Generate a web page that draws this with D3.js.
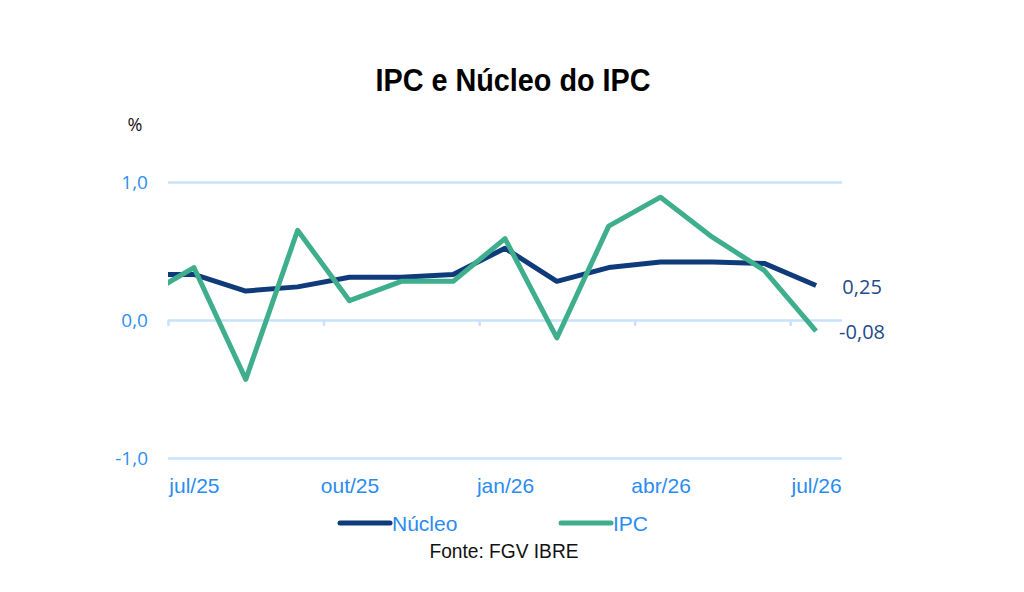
<!DOCTYPE html>
<html>
<head>
<meta charset="utf-8">
<script src="https://cdn.jsdelivr.net/npm/d3@7"></script>
<style>
  body { margin: 0; background: #fff; }
  #chart { width: 1024px; height: 592px; }
  .gridline line { stroke: #c9e1fa; stroke-width: 2.5; }
  .gridline path { display: none; }
  .line { fill: none; stroke-width: 5; stroke-linejoin: round; }
</style>
</head>
<body>
<div id="chart"></div>
<script>
// months, first one (jun/25) only enters the plot as a clipped segment
var months = ['jun/25','jul/25','ago/25','set/25','out/25','nov/25','dez/25',
              'jan/26','fev/26','mar/26','abr/26','mai/26','jun/26','jul/26'];
var nucleo = [0.33, 0.33, 0.21, 0.24, 0.31, 0.31, 0.33, 0.52, 0.28, 0.38, 0.42, 0.42, 0.41, 0.25];
var ipc    = [0.16, 0.38, -0.43, 0.65, 0.14, 0.28, 0.28, 0.59, -0.13, 0.68, 0.89, 0.60, 0.36, -0.08];
var yTicks = [-1, 0, 1];
var labelIdx = [1, 4, 7, 10, 13];        // jul/25, out/25, jan/26, abr/26, jul/26
var tickIdx = [0.5, 3.5, 6.5, 9.5, 12.5]; // tick marks sit between categories
var seriesNames = ['Núcleo', 'IPC'];
var seriesColors = ['#0f3b7a', '#3fae8d'];

var drawChart = function(div){
    var W = 1024, H = 592;
    var margin = {top: 182, right: 182, bottom: 134, left: 168},
        width = W - margin.left - margin.right,
        height = H - margin.top - margin.bottom;

    var xScale = d3.scaleLinear().domain([0.5, 13.5]).range([0, width]);
    var yScale = d3.scaleLinear().domain([-1, 1]).range([height, 0]);
    var fmt = function(d){ return d3.format('.1f')(d).replace('.', ',').replace('−', '-'); };

    var root = d3.select(div).append('svg')
        .attr('width', W)
        .attr('height', H);

    // title (condensed look)
    root.append('text')
        .attr('x', 513)
        .attr('y', 91)
        .attr('text-anchor', 'middle')
        .attr('textLength', 275)
        .attr('lengthAdjust', 'spacingAndGlyphs')
        .style('font-family', '"Liberation Sans", Arial, sans-serif')
        .style('font-weight', 'bold')
        .style('font-size', '32px')
        .attr('fill', '#000')
        .text('IPC e Núcleo do IPC');

    root.append('text')
        .attr('x', 135)
        .attr('y', 131)
        .attr('text-anchor', 'middle')
        .style('font-family', '"Open Sans", sans-serif')
        .style('font-size', '18px')
        .attr('fill', '#111')
        .text('%');

    root.append('defs').append('clipPath')
        .attr('id', 'plotclip')
      .append('rect')
        .attr('x', 0).attr('y', -20)
        .attr('width', width).attr('height', height + 40);

    var svg = root.append('g')
        .attr('transform', 'translate(' + margin.left + ',' + margin.top + ')');

    // horizontal gridlines
    svg.append('g')
        .attr('class', 'gridline')
        .call(d3.axisLeft(yScale)
            .tickValues(yTicks)
            .tickSize(-width)
            .tickFormat(''));

    // y labels
    svg.append('g')
        .attr('class', 'y axis')
        .call(d3.axisLeft(yScale).tickValues(yTicks).tickSize(0).tickPadding(20).tickFormat(fmt))
        .call(function(g){ g.select('.domain').remove(); })
        .selectAll('text')
            .style('font-family', '"Open Sans", sans-serif')
            .style('font-size', '19px')
            .attr('fill', '#2f8ff0');

    // tick marks on the zero line
    svg.append('g')
        .attr('class', 'x ticks')
        .attr('transform', 'translate(0,' + yScale(0) + ')')
        .call(d3.axisBottom(xScale).tickValues(tickIdx).tickSize(6).tickFormat(''))
        .call(function(g){
            g.select('.domain').remove();
            g.selectAll('line').attr('stroke', '#c9e1fa').attr('stroke-width', 2.5);
        });

    // x labels under the plot
    svg.append('g')
        .attr('class', 'x axis')
        .attr('transform', 'translate(0,' + height + ')')
        .call(d3.axisBottom(xScale).tickValues(labelIdx).tickSize(0).tickPadding(20)
            .tickFormat(function(d){ return months[d]; }))
        .call(function(g){ g.select('.domain').remove(); })
        .selectAll('text')
            .style('font-family', '"Liberation Sans", Arial, sans-serif')
            .style('font-size', '21px')
            .attr('fill', '#2a8cf0');

    var series = [nucleo, ipc];
    var lines = svg.append('g').attr('clip-path', 'url(#plotclip)');
    series.forEach(function(vals, k){
        var line = d3.line()
            .x(function(d, i){ return xScale(i); })
            .y(function(d){ return yScale(d); });
        lines.append('path')
            .datum(vals)
            .attr('class', 'line')
            .style('stroke', seriesColors[k])
            .attr('d', line);
    });

    // end value labels
    var last = months.length - 1;
    series.forEach(function(vals, k){
        svg.append('text')
            .attr('x', xScale(last) + 46)
            .attr('y', yScale(vals[last]))
            .attr('dy', '0.4em')
            .attr('text-anchor', 'middle')
            .style('font-family', '"Open Sans", sans-serif')
            .style('font-size', '20px')
            .attr('fill', '#1f4b8a')
            .text(d3.format('.2f')(vals[last]).replace('.', ',').replace('−', '-'));
    });

    // legend
    var legendX = [340, 561];
    seriesNames.forEach(function(name, k){
        root.append('line')
            .attr('x1', legendX[k]).attr('x2', legendX[k] + 50)
            .attr('y1', 523).attr('y2', 523)
            .attr('stroke', seriesColors[k])
            .attr('stroke-width', 5)
            .attr('stroke-linecap', 'round');
        root.append('text')
            .attr('x', legendX[k] + 52)
            .attr('y', 531)
            .style('font-family', '"Liberation Sans", Arial, sans-serif')
            .style('font-size', '21px')
            .attr('fill', '#2a8cf0')
            .text(name);
    });

    root.append('text')
        .attr('x', 504)
        .attr('y', 558)
        .attr('text-anchor', 'middle')
        .attr('textLength', 149)
        .attr('lengthAdjust', 'spacingAndGlyphs')
        .style('font-family', '"Liberation Sans", Arial, sans-serif')
        .style('font-size', '20px')
        .attr('fill', '#111')
        .text('Fonte: FGV IBRE');
};

drawChart('#chart');
</script>
</body>
</html>
